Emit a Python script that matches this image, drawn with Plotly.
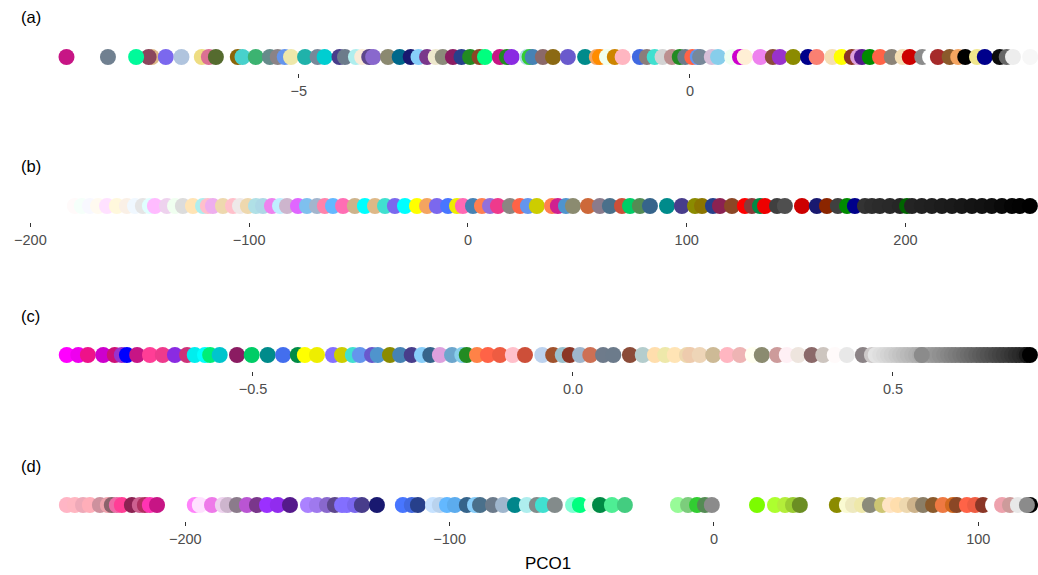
import plotly.graph_objects as go

# ---- Panel (a): PCO1 scores and colours ----
a_x = [-6.88, -6.92, -7.97, -7.44, -7.08, -6.70, -6.50, -6.24, -6.15, -6.06,
       -5.78, -5.72, -5.55, -5.37, -5.27, -5.18, -5.10, -4.92, -4.76, -4.67,
       -4.48, -4.41, -4.27, -4.19, -4.10, -4.05, -3.86, -3.71, -3.57, -3.47,
       -3.36, -3.25, -3.16, -3.03, -2.92, -2.81, -2.69, -2.62, -2.43, -2.34,
       -2.28, -2.08, -2.05, -2.01, -1.88, -1.75, -1.56, -1.34, -1.19, -1.15,
       -1.06, -0.96, -0.86, -0.64, -0.55, -0.45, -0.35, -0.23, -0.13, -0.06,
       0.03, 0.10, 0.13, 0.28, 0.36, 0.54, 0.64, 0.70, 0.90, 1.06,
       1.15, 1.32, 1.51, 1.62, 1.82, 1.94, 2.07, 2.15, 2.20, 2.30,
       2.43, 2.58, 2.72, 2.81, 2.97, 3.07, 3.17, 3.32, 3.43, 3.52,
       3.67, 3.77, 3.96, 4.05, 4.13, 4.35]
a_col = ["#DEB887", "#8B475D", "#C71585", "#708090", "#00FA9A", "#7B68EE", "#B0C4DE", "#EEDD82", "#DB7093", "#556B2F",
         "#8B6508", "#48D1CC", "#3CB371", "#668B8B", "#8B8386", "#6495ED", "#EEE8AA", "#20B2AA", "#778899", "#00CED1",
         "#483D8B", "#6C7B8B", "#AFEEEE", "#FAEBD7", "#5D478B", "#8968CD", "#8B8970", "#00688B", "#191970", "#87CEFA",
         "#7A378B", "#EEE8CD", "#8B8B7A", "#8B1C62", "#27408B", "#228B22", "#8B4726", "#00FF7F", "#C71585", "#228B22",
         "#8A2BE2", "#ADD8E6", "#32CD32", "#4682B4", "#8B6969", "#8B6914", "#6A5ACD", "#008B8B", "#F4A460", "#FF8C00",
         "#F0FFF0", "#CD8500", "#FFB6C1", "#4169E1", "#8B7D7B", "#40E0D0", "#D3D3D3", "#BC8F8F", "#228B22", "#6C7B8B",
         "#FF6347", "#6495ED", "#778899", "#D8BFD8", "#87CEEB", "#F0FFF0", "#CD00CD", "#FFEFD5", "#EE82EE", "#8B4C39",
         "#9932CC", "#8B8B00", "#00008B", "#FA8072", "#F5DEB3", "#FFFF00", "#8B3626", "#DDA0DD", "#551A8B", "#008B00",
         "#FF6347", "#8B8378", "#F5DEB3", "#CD0000", "#8C8C8C", "#FFFFFF", "#A52A2A", "#8B5A2B", "#F4A460", "#000000",
         "#F0E68C", "#00008B", "#0D0D0D", "#666666", "#EDEDED", "#F7F7F7"]

# ---- Panel (b) ----
b_x = [-179.7, -176.5, -172.8, -169.1, -165.0, -160.5, -155.9, -152.2, -148.6, -145.4,
       -143.1, -137.6, -133.9, -130.3, -125.7, -121.1, -118.9, -116.6, -112.0, -107.4,
       -104.2, -100.6, -96.9, -93.7, -89.6, -85.9, -82.7, -77.7, -73.6, -69.0,
       -65.4, -61.7, -57.1, -51.7, -47.1, -42.5, -37.9, -33.4, -28.8, -23.3,
       -18.7, -14.2, -9.1, -5.0, -2.3, 2.3, 6.4, 10.1, 13.7, 19.2,
       23.8, 27.4, 31.5, 38.4, 41.1, 44.8, 48.0, 54.9, 60.3, 64.9,
       70.4, 74.1, 78.6, 83.2, 91.0, 97.8, 103.8, 107.0, 112.0, 115.2,
       120.7, 126.6, 129.8, 133.5, 135.8, 141.3, 144.9, 152.7, 159.5, 164.1,
       169.1, 173.3, 176.9, 181.5, 184.7, 188.3, 192.9, 197.5, 200.7, 203.0,
       207.5, 212.1, 216.7, 221.3, 225.8, 230.4, 235.0, 239.5, 244.1, 248.7,
       252.3, 256.9]
b_col = ["#FFFAFA", "#F5FFFA", "#F8F8FF", "#FFFAF0", "#FFE1FF", "#FFF8DC", "#FAF0E6", "#F0F8FF", "#E5E5E5", "#E0FFFF",
         "#FFBBFF", "#EED2EE", "#F0FFF0", "#DCDCDC", "#FFE4B5", "#AEEEEE", "#FFC0CB", "#EEAEEE", "#EED8AE", "#FFC0CB",
         "#EEE9E9", "#EED8AE", "#B0E0E6", "#ADD8E6", "#EE82EE", "#BFEFFF", "#CDB5CD", "#E066FF", "#7EC0EE", "#A2B5CD",
         "#FF82AB", "#63B8FF", "#FF6EB4", "#CDB38B", "#00FFFF", "#DEB887", "#40E0D0", "#7B68EE", "#00FFFF", "#FFFF00",
         "#F4A460", "#7B68EE", "#4876FF", "#EEEE00", "#FF69B4", "#4682B4", "#FF7F50", "#9370DB", "#EE3A8C", "#8B8682",
         "#FF6347", "#6495ED", "#CDCD00", "#FF7F50", "#D02090", "#4F94CD", "#8B8B70", "#CD6839", "#8B7B8B", "#4A708B",
         "#CD4F39", "#00CD66", "#548B54", "#36648B", "#008B8B", "#483D8B", "#8B8B00", "#8B7500", "#27408B", "#8B2252",
         "#8B4726", "#FF0000", "#8B3A3A", "#008B45", "#EE0000", "#404040", "#4F4F4F", "#CD0000", "#191970", "#8B2500",
         "#404040", "#008B00", "#00008B", "#333333", "#2E2E2E", "#2B2B2B", "#292929", "#262626", "#006400", "#242424",
         "#212121", "#1F1F1F", "#1C1C1C", "#1A1A1A", "#171717", "#141414", "#121212", "#0F0F0F", "#0A0A0A", "#050505",
         "#030303", "#000000"]

# ---- Panel (c) ----
c_x = [-0.791, -0.773, -0.758, -0.734, -0.716, -0.705, -0.697, -0.681, -0.661, -0.641,
       -0.622, -0.603, -0.591, -0.575, -0.567, -0.552, -0.525, -0.502, -0.477, -0.453,
       -0.430, -0.419, -0.400, -0.375, -0.361, -0.344, -0.333, -0.314, -0.305, -0.286,
       -0.270, -0.252, -0.236, -0.223, -0.208, -0.189, -0.173, -0.166, -0.150, -0.133,
       -0.114, -0.094, -0.075, -0.048, -0.031, -0.016, -0.005, 0.011, 0.027, 0.047,
       0.063, 0.089, 0.109, 0.128, 0.144, 0.159, 0.178, 0.183, 0.198, 0.219,
       0.241, 0.261, 0.281, 0.295, 0.319, 0.334, 0.352, 0.373, 0.391, 0.409,
       0.428, 0.453, 0.467,
       0.473, 0.480, 0.486, 0.492, 0.498, 0.505, 0.511, 0.517, 0.523, 0.530,
       0.536, 0.542, 0.548, 0.555, 0.561, 0.567, 0.573, 0.580, 0.586, 0.592,
       0.598, 0.605, 0.611, 0.617, 0.623, 0.630, 0.636, 0.642, 0.648, 0.655,
       0.661, 0.667, 0.673, 0.680, 0.686, 0.692, 0.698, 0.705, 0.709, 0.714,
       0.545]
c_col = ["#FF00FF", "#EE00EE", "#EE1289", "#CD00CD", "#CD1076", "#9A32CD", "#0000FF", "#C71585", "#FF3E96", "#EE3A8C",
         "#8A2BE2", "#CD3278", "#00EEEE", "#00FFFF", "#00EE76", "#00C5CD", "#8B1C62", "#00CD66", "#008B8B", "#436EEE",
         "#008B45", "#FFFF00", "#EEEE00", "#8470FF", "#CDCD00", "#40E0D0", "#6495ED", "#6959CD", "#4F94CD", "#8B8B00",
         "#4682B4", "#483D8B", "#87CEFA", "#36648B", "#DDA0DD", "#6CA6CD", "#87CEEB", "#228B22", "#FF8247", "#FF6347",
         "#EE5C42", "#FFC0CB", "#CD4F39", "#BCD2EE", "#A0522D", "#9AC0CD", "#8B3626", "#9FB6CD", "#CD7054", "#6E7B8B",
         "#6C7B8B", "#8B4C39", "#B4CDCD", "#FFDEAD", "#EEE8AA", "#FFE4B5", "#EED8AE", "#EECBAD", "#EED5B7", "#CDBA96",
         "#FFB6C1", "#EEB4B4", "#FFFFF0", "#8B8B70", "#CD9B9B", "#FFF0F5", "#EEE5DE", "#8B6969", "#CDC5BF", "#FFFAFA",
         "#E8E8E8", "#8B8386", "#CDC9C9",
         "#E3E3E3", "#DEDEDE", "#D9D9D9", "#D4D4D4", "#CFCFCF", "#C9C9C9", "#C4C4C4", "#BFBFBF", "#BABABA", "#B5B5B5",
         "#B0B0B0", "#ABABAB", "#A6A6A6", "#A1A1A1", "#9C9C9C", "#969696", "#919191", "#8C8C8C", "#878787", "#828282",
         "#7D7D7D", "#787878", "#737373", "#6E6E6E", "#696969", "#636363", "#5E5E5E", "#595959", "#545454", "#4F4F4F",
         "#4A4A4A", "#454545", "#404040", "#3B3B3B", "#363636", "#303030", "#2B2B2B", "#262626", "#1A1A1A", "#000000",
         "#8B8B8B"]

# ---- Panel (d) ----
d_x = [-244.8, -241.8, -238.7, -236.1, -232.3, -229.3, -227.8, -225.9, -224.0, -220.2,
       -217.2, -215.3, -213.4, -210.7, -196.4, -194.5, -189.9, -185.8, -183.9, -180.5,
       -176.7, -172.9, -169.1, -165.0, -160.4, -153.6, -150.2, -146.4, -143.4, -140.7,
       -138.9, -135.8, -133.2, -127.5, -117.7, -114.3, -112.0, -106.3, -103.7, -101.0,
       -98.0, -93.5, -90.4, -88.5, -83.6, -79.8, -75.3, -70.8, -67.0, -64.7,
       -60.2, -53.3, -50.7, -46.2, -43.1, -38.6, -33.7, -13.6, -9.8, -6.4,
       -3.4, -0.8, 16.3, 23.1, 26.9, 29.9, 32.5, 46.5, 50.3, 52.6,
       56.0, 59.0, 63.6, 66.6, 69.6, 73.0, 76.0, 79.1, 82.9, 86.6,
       90.4, 91.9, 95.7, 98.8, 101.8, 105.6, 109.0, 112.0, 119.6, 115.0,
       118.4]
d_col = ["#FFB5C5", "#FFB6C1", "#EEA9B8", "#FFAEB9", "#CD919E", "#EEA2AD", "#8B636C", "#EE6AA7", "#FF3E96", "#8B2252",
         "#CD6090", "#B03060", "#FF34B3", "#C71585", "#FF83FA", "#FFE1FF", "#EE7AE9", "#EED2EE", "#CDB5CD", "#8B7B8B",
         "#BA55D3", "#7A378B", "#9B30FF", "#912CEE", "#551A8B", "#AB82FF", "#9F79EE", "#8968CD", "#5D478B", "#8470FF",
         "#836FFF", "#7A67EE", "#483D8B", "#191970", "#4876FF", "#4169E1", "#27408B", "#C6E2FF", "#B9D3EE", "#63B8FF",
         "#5CACEE", "#36648B", "#87CEFA", "#4A708B", "#6C7B8B", "#9FB6CD", "#00868B", "#AEEEEE", "#838B8B", "#40E0D0",
         "#838B8B", "#7FFFD4", "#00FF7F", "#F0FFF0", "#008B45", "#4EEE94", "#43CD80", "#98FB98", "#7CCD7C", "#32CD32",
         "#548B54", "#8B8B8B", "#7CFC00", "#ADFF2F", "#B3EE3A", "#9ACD32", "#6B8E23", "#8B8B00", "#FAFAD2", "#EEE9BF",
         "#EEE8AA", "#8B8B7A", "#CDC673", "#FFE4C4", "#FFDEAD", "#EED8AE", "#CDB38B", "#8B7E66", "#8B5A2B", "#EE7942",
         "#D2691E", "#8B4726", "#FF6347", "#EE5C42", "#8B3626", "#FFFFFF", "#EEA2AD", "#CD9B9B", "#000000", "#E8E8E8",
         "#8B8B8B"]

panels = [("(a)", a_x, a_col, [-8.82, 4.45], [-5, 0], ""),
          ("(b)", b_x, b_col, [-213.9, 260.6], [-200, -100, 0, 100, 200], ""),
          ("(c)", c_x, c_col, [-0.8953, 0.7266], [-0.5, 0.0, 0.5], ".1f"),
          ("(d)", d_x, d_col, [-270.1, 122.6], [-200, -100, 0, 100], "")]

W, H = 1038, 575
# strip row: top / bottom pixel of each strip
strip_px = [(41, 73), (190, 222), (339, 371), (489, 521)]
label_px = [17, 166, 316, 466]

fig = go.Figure()
layout = dict(width=W, height=H, margin=dict(l=0, r=0, t=0, b=0),
              paper_bgcolor="white", plot_bgcolor="white", showlegend=False,
              font=dict(family="Liberation Sans, Arial, sans-serif"))
annotations = []
for i, (lab, xs, cols, xr, ticks, fmt) in enumerate(panels):
    n = "" if i == 0 else str(i + 1)
    top, bot = strip_px[i]
    fig.add_trace(go.Scatter(
        x=xs, y=[0] * len(xs), mode="markers",
        marker=dict(size=16, color=cols, line=dict(width=0)),
        xaxis="x" + n, yaxis="y" + n, cliponaxis=False, hoverinfo="x"))
    layout["xaxis" + n] = dict(
        domain=[0, 1], range=xr, anchor="y" + n, tickmode="array", tickvals=ticks,
        tickformat=fmt, ticks="outside", ticklen=4, tickwidth=1, tickcolor="#333333",
        showline=False, showgrid=False, zeroline=False,
        tickfont=dict(size=14.5, color="#4D4D4D"), ticklabelstandoff=1)
    layout["yaxis" + n] = dict(
        domain=[1 - bot / H, 1 - top / H], range=[-1, 1], anchor="x" + n,
        visible=False, fixedrange=True)
    annotations.append(dict(text=lab, x=19 / W, y=1 - label_px[i] / H, xref="paper", yref="paper",
                            xanchor="left", yanchor="middle", showarrow=False,
                            font=dict(size=16.5, color="black")))

annotations.append(dict(text="PCO1", x=548 / W, y=1 - 563 / H, xref="paper", yref="paper",
                        xanchor="center", yanchor="middle", showarrow=False,
                        font=dict(size=17, color="black")))
layout["annotations"] = annotations
fig.update_layout(**layout)
fig.write_html("out.html")
